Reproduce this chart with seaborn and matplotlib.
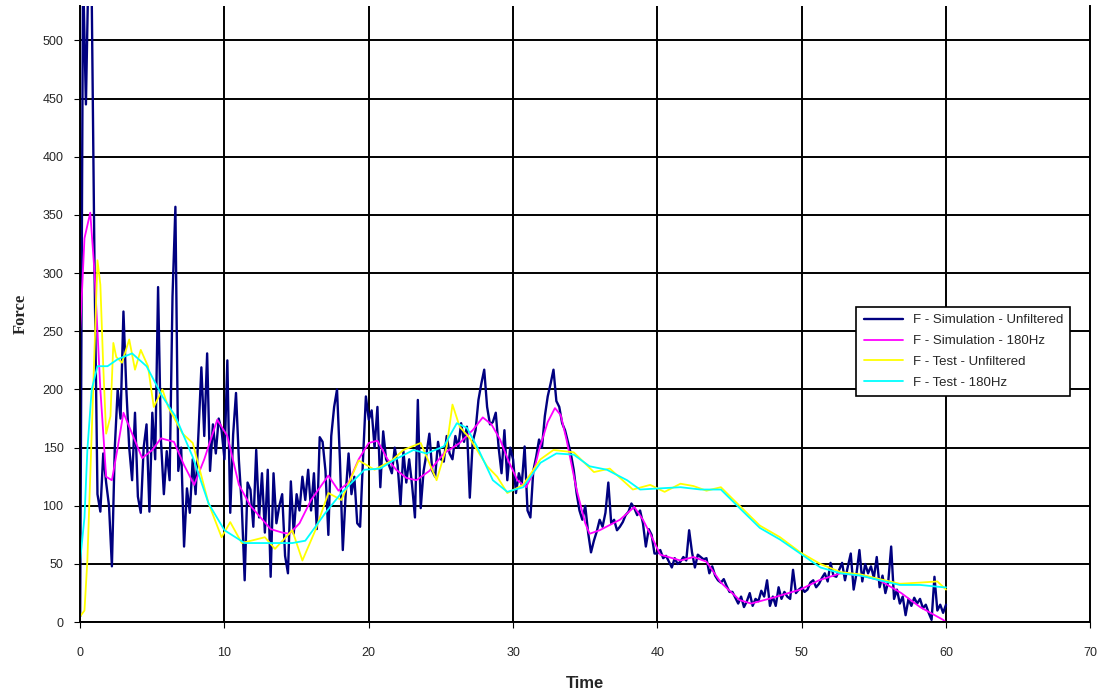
import numpy as np
import pandas as pd
import seaborn as sns
import matplotlib
matplotlib.use("Agg")
import matplotlib.pyplot as plt

# F - Simulation - Unfiltered, sampled every 0.2 s from 0 to 60 s
sim_raw = [
    5, 560, 445, 580, 540, 300, 110, 95, 145, 120,        # 0 - 1.8
    100, 48, 150, 200, 175, 267, 200, 150, 122, 180,      # 2 - 3.8
    108, 94, 150, 170, 95, 180, 140, 288, 156, 110,       # 4 - 5.8
    147, 122, 280, 357, 130, 150, 65, 115, 94, 140,       # 6 - 7.8
    110, 163, 219, 160, 231, 130, 170, 145, 175, 165,     # 8 - 9.8
    140, 225, 94, 161, 197, 139, 100, 36, 120, 114,       # 10 - 11.8
    82, 148, 90, 128, 77, 131, 39, 128, 85, 100,          # 12 - 13.8
    110, 57, 42, 121, 76, 110, 96, 125, 105, 131,         # 14 - 15.8
    96, 128, 80, 159, 155, 130, 75, 160, 185, 200,        # 16 - 17.8
    140, 62, 110, 145, 110, 125, 85, 82, 140, 194,        # 18 - 19.8
    174, 182, 150, 185, 116, 164, 140, 135, 128, 150,     # 20 - 21.8
    135, 101, 147, 120, 140, 118, 90, 191, 98, 130,       # 22 - 23.8
    145, 162, 130, 125, 155, 140, 138, 160, 145, 140,     # 24 - 25.8
    160, 150, 171, 155, 168, 107, 155, 165, 191, 205,     # 26 - 27.8
    217, 185, 170, 172, 180, 150, 128, 165, 122, 150,     # 28 - 29.8
    140, 111, 128, 118, 151, 96, 90, 130, 142, 157,       # 30 - 31.8
    150, 177, 194, 205, 217, 190, 185, 171, 165, 155,     # 32 - 33.8
    145, 131, 111, 96, 88, 100, 77, 60, 70, 78,           # 34 - 35.8
    88, 82, 94, 120, 85, 88, 79, 82, 86, 92,              # 36 - 37.8
    95, 102, 98, 92, 96, 85, 65, 80, 75, 59,              # 38 - 39.8
    59, 62, 55, 57, 52, 47, 55, 50, 52, 56,               # 40 - 41.8
    53, 79, 60, 47, 58, 56, 54, 55, 42, 48,               # 42 - 43.8
    40, 36, 34, 37, 31, 26, 26, 21, 16, 22,               # 44 - 45.8
    13, 18, 25, 14, 20, 18, 27, 22, 36, 14,               # 46 - 47.8
    22, 14, 30, 20, 26, 22, 20, 45, 25, 28,               # 48 - 49.8
    30, 26, 28, 34, 36, 30, 33, 38, 42, 35,               # 50 - 51.8
    51, 40, 39, 45, 51, 36, 48, 59, 28, 42,               # 52 - 53.8
    62, 35, 50, 42, 48, 38, 56, 30, 40, 25,               # 54 - 55.8
    35, 65, 20, 28, 16, 22, 6, 20, 14, 21,                # 56 - 57.8
    16, 20, 12, 15, 8, 2, 39, 10, 15, 8,                  # 58 - 59.8
    15,                                                   # 60
]
sim_raw_t = np.round(np.arange(len(sim_raw)) * 0.2, 1)

# F - Simulation - 180Hz
sim_f_t = [0, 0.3, 0.7, 1.0, 1.4, 1.8, 2.2, 2.6, 3.0, 3.5, 4.3, 5.0, 5.6, 6.5,
           7.2, 7.9, 8.6, 9.5, 10.2, 11.0, 11.8, 12.5, 13.2, 14.0, 14.5, 15.2,
           16.0, 17.2, 17.9, 18.6, 19.3, 20.0, 20.6, 21.3, 21.9, 22.6, 23.3,
           24.2, 25.2, 26.3, 27.2, 27.9, 28.5, 29.1, 29.7, 30.3, 30.9, 31.4,
           31.8, 32.4, 32.9, 33.3, 33.7, 34.4, 35.0, 35.3, 36.0, 37.4, 38.4,
           39.0, 39.5, 40.2, 41.6, 42.5, 43.4, 44.4, 45.7, 46.5, 48.0, 49.9,
           51.2, 52.7, 54.2, 55.4, 56.9, 58.2, 59.8, 60.0]
sim_f = [250, 330, 352, 300, 200, 125, 122, 150, 180, 165, 141, 148, 158, 155,
         135, 118, 140, 174, 160, 118, 100, 90, 80, 77, 76, 85,
         105, 126, 113, 120, 140, 154, 156, 140, 131, 124, 122,
         130, 145, 154, 165, 176, 170, 157, 138, 122, 116, 128,
         148, 172, 184, 178, 157, 114, 85, 76, 79, 88, 99,
         88, 76, 58, 53, 56, 52, 34, 19, 16, 21, 28,
         36, 42, 40, 36, 25, 13, 2, 0]

# F - Test - Unfiltered
test_raw_t = [0, 0.3, 0.5, 0.8, 1.2, 1.4, 1.6, 1.8, 2.1, 2.3, 2.5, 2.9, 3.4,
              3.8, 4.2, 4.7, 5.1, 5.7, 6.1, 7.1, 7.8, 8.9, 9.8, 10.4, 11.2,
              12.8, 13.5, 14.7, 15.4, 16.3, 17.2, 18.1, 19.3, 20.4, 21.6,
              22.4, 23.6, 24.7, 25.4, 25.8, 26.3, 27.0, 28.2, 28.9, 29.6,
              30.7, 31.9, 32.8, 34.2, 35.6, 36.7, 38.3, 39.5, 40.5, 41.6,
              42.5, 43.4, 44.4, 45.7, 47.1, 48.5, 49.9, 51.3, 52.7, 54.1,
              55.4, 56.8, 58.2, 59.4, 60.0]
test_raw = [5, 10, 53, 162, 311, 290, 220, 162, 177, 240, 228, 223, 243,
            217, 234, 220, 185, 200, 185, 162, 154, 102, 73, 86, 68,
            73, 63, 79, 53, 79, 111, 105, 139, 131, 139,
            148, 154, 122, 151, 187, 168, 158, 134, 125, 111,
            118, 140, 148, 146, 129, 132, 114, 118, 112, 119,
            117, 113, 116, 100, 83, 73, 60, 50, 43, 41,
            37, 33, 34, 35, 28]

# F - Test - 180Hz
test_f_t = [0, 0.3, 0.5, 0.8, 1.2, 1.9, 2.6, 3.6, 4.6, 5.7, 6.6, 7.8, 8.9,
            10.0, 11.4, 13.0, 14.7, 15.6, 17.0, 18.1, 19.7, 20.8, 21.7, 23.1,
            24.0, 25.2, 26.1, 26.8, 27.5, 28.6, 29.6, 30.7, 31.9, 33.0, 34.2,
            35.3, 36.5, 37.9, 38.8, 40.2, 41.6, 43.0, 44.4, 45.7, 47.1, 48.5,
            49.9, 51.3, 52.7, 54.1, 55.4, 56.8, 58.2, 59.8, 60.0]
test_f = [53, 90, 148, 200, 220, 220, 226, 231, 220, 194, 177, 142, 102,
          79, 68, 68, 68, 70, 94, 111, 131, 132, 139, 148,
          145, 151, 171, 167, 151, 122, 112, 116, 137, 145, 144,
          134, 131, 122, 114, 115, 116, 114, 114, 98, 81, 71,
          59, 47, 42, 40, 36, 32, 32, 30, 30]

labels = ["F - Simulation - Unfiltered", "F - Simulation - 180Hz",
          "F - Test - Unfiltered", "F - Test - 180Hz"]
colors = ["#000080", "#FF00FF", "#FFFF00", "#00FFFF"]

sns.set_style("white")
plt.rcParams['font.family'] = ['Liberation Sans', 'DejaVu Sans']

fig = plt.figure(figsize=(10.98, 6.89), dpi=100)
ax = fig.add_axes([0.073, 0.097, 0.92, 0.895])

series = [(sim_raw_t, sim_raw, 1.7), (sim_f_t, sim_f, 1.3),
          (test_raw_t, test_raw, 1.3), (test_f_t, test_f, 1.3)]
for (t, f, lw), lab, col in zip(series, labels, colors):
    sns.lineplot(x=t, y=f, ax=ax, color=col, label=lab, linewidth=lw,
                 estimator=None, sort=False)

ax.set_xlim(0, 70)
ax.set_ylim(0, 530)
ax.set_xticks(range(0, 71, 10))
ax.set_yticks(range(0, 501, 50))
ax.grid(True, color="black", linewidth=1.4)
ax.set_axisbelow(True)
for side in ["left", "bottom", "right"]:
    ax.spines[side].set_color("black")
    ax.spines[side].set_linewidth(1.4)
ax.spines["top"].set_visible(False)
ax.tick_params(axis="both", labelsize=9, length=4, color="black",
               direction="out", left=True, bottom=True)
ax.tick_params(axis="x", pad=14)
ax.tick_params(axis="y", pad=8)

ax.set_xlabel("Time", fontsize=12, fontweight="bold", labelpad=12)
ax.set_ylabel("Force", fontsize=12, fontweight="bold",
              family="Liberation Serif", labelpad=10)

leg = ax.legend(loc="upper left", bbox_to_anchor=(0.762, 0.522), fontsize=9.5,
                frameon=True, fancybox=False, edgecolor="black",
                handlelength=3.0, handletextpad=0.7, borderpad=0.55,
                labelspacing=0.65, framealpha=1)
leg.get_frame().set_linewidth(1.2)

fig.savefig("out.png", dpi=100)
